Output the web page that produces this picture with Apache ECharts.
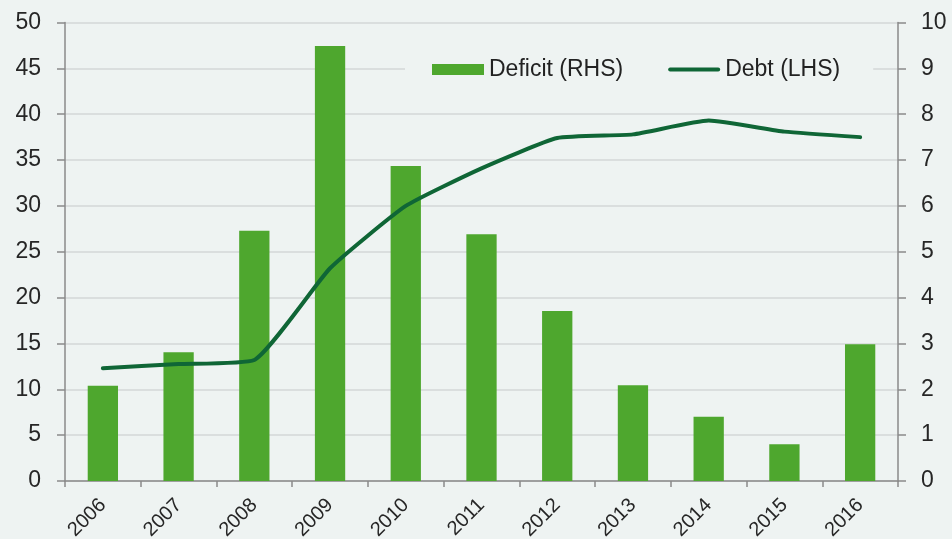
<!DOCTYPE html>
<html>
<head>
<meta charset="utf-8">
<script src="https://cdn.jsdelivr.net/npm/echarts@6/dist/echarts.min.js"></script>
<style>
html,body{margin:0;padding:0;background:#eef3f2;}
#chart{width:952px;height:539px;}
</style>
</head>
<body>
<div id="chart"></div>
<script>
var years = ['2006','2007','2008','2009','2010','2011','2012','2013','2014','2015','2016'];
var deficitRHS = [2.08, 2.81, 5.46, 9.49, 6.87, 5.38, 3.71, 2.09, 1.40, 0.80, 2.98];
var debtLHS = [12.3, 12.75, 13.2, 23.2, 30.0, 34.1, 37.4, 37.8, 39.3, 38.1, 37.5];
var leftTicks = {min: 0, max: 50, interval: 5};
var rightTicks = {min: 0, max: 10, interval: 1};

var FONT = 'Liberation Sans';
var AXIS_COLOR = '#8a8a8a';
var LINE_ICON = 'path://M0,0 L0,0 M1.5,3.5 L50.5,3.5 A2,2 0 0 1 50.5,7.5 L1.5,7.5 A2,2 0 0 1 1.5,3.5 Z M52,11 L52,11';
var chart = echarts.init(document.getElementById('chart'), null, {renderer: 'canvas'});
chart.setOption({
  backgroundColor: '#eef3f2',
  animation: false,
  textStyle: {fontFamily: FONT, color: '#262626'},
  grid: {left: 65, right: 54, top: 22.5, bottom: 58, containLabel: false, outerBoundsMode: 'none'},
  legend: {
    left: 405, top: 52,
    padding: [6, 33, 6, 27],
    backgroundColor: '#eef3f2',
    itemWidth: 52, itemHeight: 11, itemGap: 45,
    textStyle: {fontFamily: FONT, fontSize: 23, color: '#222'},
    data: [
      {name: 'Deficit (RHS)', icon: 'rect'},
      {name: 'Debt (LHS)', icon: LINE_ICON}
    ]
  },
  xAxis: {
    type: 'category',
    data: years,
    boundaryGap: true,
    axisLine: {lineStyle: {color: AXIS_COLOR, width: 1.5}},
    axisTick: {show: true, length: 6, alignWithLabel: false, lineStyle: {color: AXIS_COLOR, width: 1.5}},
    axisLabel: {rotate: 45, fontSize: 20, margin: 21, color: '#262626', fontFamily: FONT}
  },
  yAxis: [
    {
      type: 'value', position: 'left',
      min: leftTicks.min, max: leftTicks.max, interval: leftTicks.interval,
      axisLine: {show: true, lineStyle: {color: AXIS_COLOR, width: 1.5}},
      axisTick: {show: true, length: 8, lineStyle: {color: AXIS_COLOR, width: 1.5}},
      axisLabel: {fontSize: 23, margin: 24, color: '#262626', fontFamily: FONT},
      splitLine: {show: true, lineStyle: {color: '#d3d7d7', width: 1.5}}
    },
    {
      type: 'value', position: 'right',
      min: rightTicks.min, max: rightTicks.max, interval: rightTicks.interval,
      axisLine: {show: true, lineStyle: {color: AXIS_COLOR, width: 1.5}},
      axisTick: {show: true, length: 8, lineStyle: {color: AXIS_COLOR, width: 1.5}},
      axisLabel: {fontSize: 23, margin: 23, color: '#262626', fontFamily: FONT},
      splitLine: {show: false}
    }
  ],
  series: [
    {
      name: 'Deficit (RHS)', type: 'bar', yAxisIndex: 1,
      data: deficitRHS, barWidth: '40%',
      itemStyle: {color: '#4ea72e'}
    },
    {
      name: 'Debt (LHS)', type: 'line', yAxisIndex: 0,
      data: debtLHS, symbol: 'none', smooth: 0.15,
      lineStyle: {color: '#0f6636', width: 4, cap: 'round', join: 'round'},
      itemStyle: {color: '#0f6636'}
    }
  ]
});
</script>
</body>
</html>
